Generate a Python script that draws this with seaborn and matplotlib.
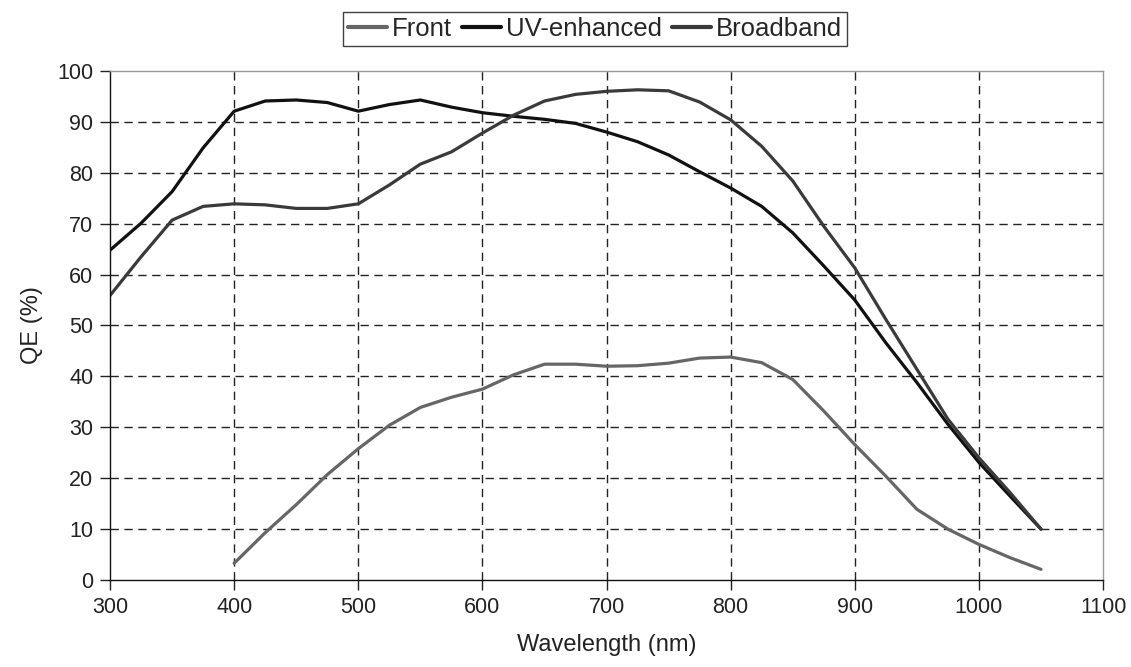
import numpy as np
import pandas as pd
import seaborn as sns
import matplotlib.pyplot as plt

wl_full = list(range(300, 1051, 25))
wl_front = list(range(400, 1051, 25))

uv_enhanced = [64.8, 70.1, 76.3, 84.9, 92.1, 94.1, 94.3, 93.8, 92.1, 93.4, 94.3,
               92.9, 91.8, 91.1, 90.5, 89.7, 88.0, 86.1, 83.5, 80.2, 77.0,
               73.4, 68.2, 61.7, 55.0, 46.6, 38.8, 30.6, 23.1, 16.5, 10.0]
broadband = [55.9, 63.5, 70.7, 73.4, 73.9, 73.7, 73.0, 73.0, 73.9, 77.6, 81.7,
             84.1, 87.8, 91.3, 94.1, 95.4, 96.0, 96.3, 96.1, 93.9, 90.4,
             85.2, 78.4, 69.5, 61.3, 51.2, 41.4, 31.6, 24.0, 17.2, 10.0]
front = [3.3, 9.3, 14.8, 20.7, 25.8, 30.4, 33.9, 35.9, 37.5, 40.3, 42.4,
         42.4, 42.0, 42.1, 42.6, 43.6, 43.8, 42.7, 39.4, 33.2, 26.6,
         20.4, 13.9, 10.0, 7.0, 4.4, 2.1]

series_order = ["Front", "UV-enhanced", "Broadband"]
series_colors = ["#666666", "#111111", "#3a3a3a"]

df = pd.concat([
    pd.DataFrame({"wl": wl_front, "qe": front, "series": "Front"}),
    pd.DataFrame({"wl": wl_full, "qe": uv_enhanced, "series": "UV-enhanced"}),
    pd.DataFrame({"wl": wl_full, "qe": broadband, "series": "Broadband"}),
], ignore_index=True)

sns.set_style("white")
plt.rcParams['font.family'] = ['Liberation Sans', 'DejaVu Sans']

fig = plt.figure(figsize=(11.31, 6.67), dpi=100)
ax = fig.add_axes([0.0973, 0.1304, 0.8780, 0.7632])

sns.lineplot(data=df, x="wl", y="qe", hue="series", hue_order=series_order,
             palette=series_colors, linewidth=2.3, ax=ax, legend=False, sort=True)

ax.set_xlim(300, 1100)
ax.set_ylim(0, 100)
ax.set_xticks(range(300, 1101, 100))
ax.set_yticks(range(0, 101, 10))
ax.tick_params(axis='both', labelsize=15.5, colors='#222222', direction='out',
               length=7, width=1, left=True, bottom=True, pad=5)

for v in range(400, 1100, 100):
    ax.axvline(v, color='#222222', lw=1, ls=(0, (6, 4)), zorder=0)
for v in range(10, 100, 10):
    ax.axhline(v, color='#222222', lw=1, ls=(0, (6, 4)), zorder=0)

ax.spines['left'].set_color('#111111')
ax.spines['bottom'].set_color('#111111')
ax.spines['top'].set_color('#999999')
ax.spines['right'].set_color('#999999')
for s in ax.spines.values():
    s.set_linewidth(1)

ax.set_xlabel("Wavelength (nm)", fontsize=17, color='#222222', labelpad=12)
ax.set_ylabel("QE (%)", fontsize=17, color='#222222', labelpad=10)

handles = [plt.Line2D([], [], color=c, lw=3) for c in series_colors]
leg = fig.legend(handles, series_order, loc='center', bbox_to_anchor=(0.526, 0.9565),
                 ncol=3, fontsize=18.5, frameon=True, fancybox=False,
                 handlelength=1.5, handletextpad=0.2, columnspacing=0.4,
                 borderpad=0.2, borderaxespad=0)
leg.get_frame().set_edgecolor('#111111')
leg.get_frame().set_linewidth(1)

fig.savefig("out.png", dpi=100, facecolor='white')
